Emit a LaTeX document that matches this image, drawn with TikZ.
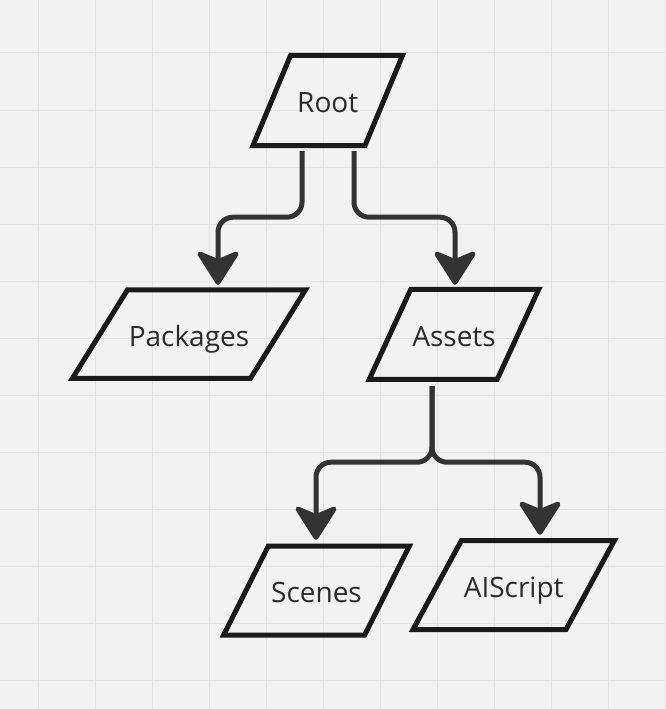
\documentclass[tikz,border=0pt]{standalone}
\usepackage{fontspec}
\setmainfont{Open Sans}
\usetikzlibrary{calc,arrows.meta}
\definecolor{bgc}{HTML}{F2F2F2}
\definecolor{gridc}{HTML}{E3E3E3}
\definecolor{shapec}{HTML}{1A1A1A}
\definecolor{connc}{HTML}{333333}
\definecolor{textc}{HTML}{2B2B2B}
\newcommand\parashape[4]{%
  \draw[pshape] ($(#1)+({-#2/2+#4/2},{-#3/2})$) -- ($(#1)+({#2/2+#4/2},{-#3/2})$)
    -- ($(#1)+({#2/2-#4/2},{#3/2})$) -- ($(#1)+({-#2/2-#4/2},{#3/2})$) -- cycle;}
\begin{document}
\begin{tikzpicture}[x=1pt,y=-1pt,
  pshape/.style={draw=shapec,line width=5pt,line join=miter},
  lbl/.style={inner sep=0pt,text=textc,text height=24.4pt,text depth=0pt,
    font=\fontsize{28}{34}\selectfont},
  conn/.style={draw=connc,line width=5pt,rounded corners=15pt,
    -{Stealth[length=38pt,width=48pt,inset=10pt,round]}}]
\useasboundingbox (0,0) rectangle (666,709);
\fill[bgc] (0,0) rectangle (666,709);
\foreach \i in {0,...,11} {
  \draw[gridc,line width=1pt] ({38.7+57*\i},0) -- ({38.7+57*\i},709);
  \draw[gridc,line width=1pt] (0,{53+57*\i}) -- (666,{53+57*\i});
}
% nodes
\node[lbl,minimum width=112pt,minimum height=90pt] (root) at (327.75,100.5) {Root};
\node[lbl,minimum width=178pt,minimum height=88.5pt] (packages) at (189,334) {Packages};
\node[lbl,minimum width=128pt,minimum height=90pt] (assets) at (454,334.3) {Assets};
\node[lbl,minimum width=141pt,minimum height=89pt] (scenes) at (316.5,590.5) {Scenes};
\node[lbl,minimum width=153pt,minimum height=89pt] (aiscript) at (513.7,585) {AIScript};
\parashape{root}{112}{90}{37.5}
\parashape{packages}{178}{88.5}{55}
\parashape{assets}{128}{90}{41.5}
\parashape{scenes}{141}{89}{44.7}
\parashape{aiscript}{153}{89}{48.4}
% connectors
\draw[conn] ($(root.south)+(-25.75,5.5)$) -- ++(0,66) -| ($(packages.north)+(29,-4.75)$);
\draw[conn] ($(root.south)+(26.25,5.5)$) -- ++(0,66) -| ($(assets.north)+(1,-4.3)$);
\draw[conn] ($(assets.south)+(-22,6.7)$) -- ++(0,76) -| ($(scenes.north)+(-0.5,-6)$);
\draw[conn] ($(assets.south)+(-22,6.7)$) -- ++(0,76) -| ($(aiscript.north)+(26.3,-5.5)$);
\end{tikzpicture}
\end{document}
